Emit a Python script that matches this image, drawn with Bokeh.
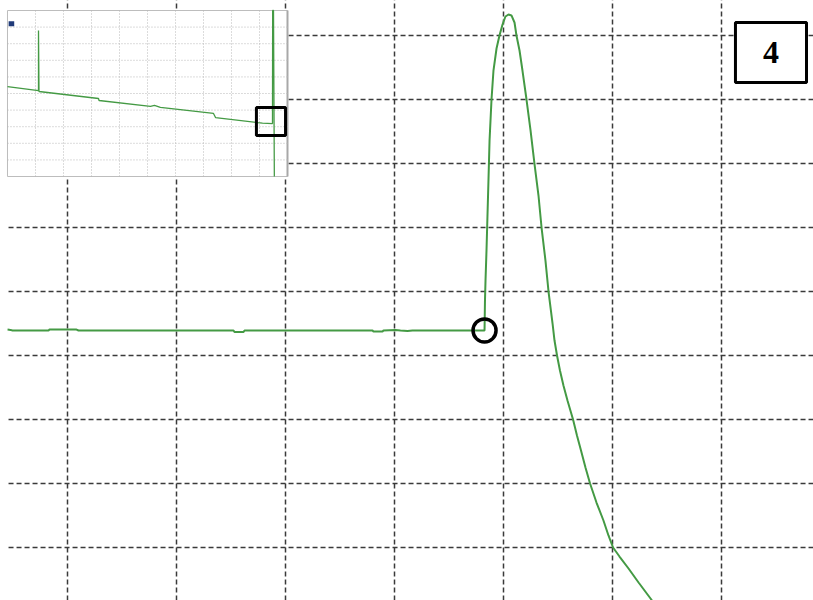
import numpy as np
from bokeh.plotting import figure
from bokeh.models import Range1d
from bokeh.core.properties import value
from bokeh.embed import file_html
from bokeh.resources import INLINE

# Zoomed trace: time and amplitude in grid divisions
trace_t = [-0.550, -0.523, -0.505, -0.174, -0.165, 0.083, 0.101, 1.523, 1.532, 1.615,
           1.624, 2.798, 2.807, 2.890, 2.899, 3.009, 3.055, 3.119, 3.165, 3.826,
           3.830, 3.835, 3.844, 3.853, 3.862, 3.872, 3.890, 3.908, 3.936, 3.963,
           3.991, 4.018, 4.046, 4.073, 4.101, 4.119, 4.147, 4.174, 4.211, 4.248,
           4.284, 4.321, 4.349, 4.385, 4.413, 4.450, 4.468, 4.491, 4.518, 4.550,
           4.587, 4.638, 4.674, 4.711, 4.752, 4.794, 4.853, 4.917, 4.963, 5.005,
           5.064, 5.147, 5.239, 5.349, 5.394]
trace_v = [3.406, 3.400, 3.391, 3.391, 3.406, 3.406, 3.391, 3.391, 3.367, 3.367,
           3.391, 3.391, 3.375, 3.375, 3.391, 3.398, 3.391, 3.383, 3.391, 3.391,
           3.859, 4.172, 4.641, 5.188, 5.734, 6.359, 7.000, 7.453, 7.797, 8.000,
           8.172, 8.297, 8.328, 8.313, 8.203, 8.000, 7.766, 7.453, 7.000, 6.516,
           6.000, 5.500, 5.000, 4.484, 4.000, 3.500, 3.234, 3.000, 2.766, 2.531,
           2.297, 2.000, 1.750, 1.516, 1.250, 1.000, 0.703, 0.422, 0.188, 0.000,
           -0.141, -0.328, -0.547, -0.797, -0.906]

# Overview trace (inset), in inset divisions
overview_t = [0.0, 1.107, 1.107, 1.125, 3.25, 3.27, 5.107, 5.25, 5.46, 7.357,
              7.43, 8.93, 9.107, 9.464, 9.47, 9.50, 9.53]
overview_v = [5.42, 5.18, 8.80, 5.12, 4.70, 4.58, 4.22, 4.28, 4.16, 3.80,
              3.55, 3.25, 3.22, 3.19, 10.0, 10.0, 0.0]

x_divs = [0, 1, 2, 3, 4, 5, 6]
y_divs = [0, 1, 2, 3, 4, 5, 6, 7, 8]
inset_divs = [1, 2, 3, 4, 5, 6, 7, 8, 9]
panel_label = "4"

GREEN = "#449a44"
GRID = "#3a3a3a"

X0, X1 = -0.6147, 6.844
Y0, Y1 = -0.828, 8.547

p = figure(width=813, height=600, x_range=Range1d(X0, X1), y_range=Range1d(Y0, Y1),
           x_axis_location=None, y_axis_location=None, toolbar_location=None,
           output_backend="svg", min_border=0, outline_line_color=None,
           background_fill_color="white", border_fill_color="white")
p.grid.visible = False

# dashed grid
p.segment(x0=x_divs, y0=[Y0 - 1] * len(x_divs), x1=x_divs, y1=[Y1 + 1] * len(x_divs),
          line_color=GRID, line_width=1.5, line_dash="5 3")
p.segment(x0=[-0.541] * len(y_divs), y0=y_divs, x1=[X1 + 1] * len(y_divs), y1=y_divs,
          line_color=GRID, line_width=1.5, line_dash="5 3")

# main trace
p.line(trace_t, trace_v, line_color=GREEN, line_width=2)

# onset marker at the last baseline sample before the rise
tv = np.array(trace_v)
rise = int(np.argmax(np.diff(tv) > 0.3))
p.scatter([trace_t[rise]], [trace_v[rise]], marker="circle", size=23,
          fill_color=None, line_color="black", line_width=3.5)

# inset panel
IX0, IX1 = -0.5505, 2.0183
IY0, IY1 = 5.7969, 8.3906
p.quad(left=[IX0], right=[IX1], bottom=[IY0], top=[IY1],
       fill_color="white", line_color="#bdbdbd", line_width=1)
p.segment(x0=[IX1], y0=[IY0], x1=[IX1], y1=[IY1], line_color="#a8a8a8", line_width=2)

ins = p.subplot(x_source=Range1d(0, 10), y_source=Range1d(0, 10),
                x_target=Range1d(IX0, IX1), y_target=Range1d(IY0, IY1))
n = len(inset_divs)
ins.segment(x0=inset_divs, y0=[0] * n, x1=inset_divs, y1=[10] * n,
            line_color="#b8b8b8", line_width=1, line_dash="1 2")
ins.segment(x0=[0] * n, y0=inset_divs, x1=[10] * n, y1=inset_divs,
            line_color="#b8b8b8", line_width=1, line_dash="1 2")
ins.quad(left=[0.04], right=[0.24], bottom=[9.05], top=[9.35],
         fill_color="#1f3a78", line_color=None)
ins.line(overview_t, overview_v, line_color=GREEN, line_width=1.3)
ins.quad(left=[8.89], right=[9.93], bottom=[2.47], top=[4.16],
         fill_color=None, line_color="black", line_width=3)

# panel number
p.quad(left=[6.128], right=[6.780], bottom=[7.266], top=[8.203],
       fill_color="white", line_color="black", line_width=3)
p.text(x=[6.454], y=[7.734], text=[panel_label], text_font=value("Liberation Serif"),
       text_font_style="bold", text_font_size="32px", text_align="center",
       text_baseline="middle", text_color="black")

open("out.html", "w").write(file_html(p, INLINE))
